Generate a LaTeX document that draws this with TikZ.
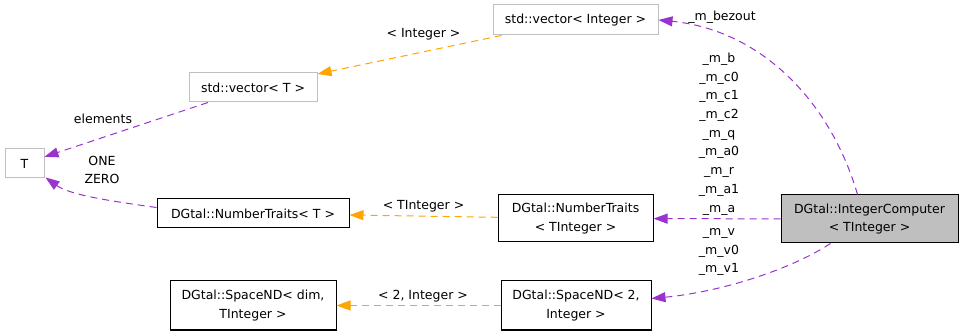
\documentclass[tikz,border=0pt]{standalone}
\usepackage{fontspec}
\setmainfont{DejaVu Sans}
\usetikzlibrary{arrows.meta,calc}
\definecolor{member}{HTML}{9A32CD}
\definecolor{templ}{HTML}{FFA500}
\definecolor{boxgray}{HTML}{BFBFBF}
\tikzset{
  cls/.style={draw=black, line width=1pt, inner sep=0pt, align=center,
    font=\fontsize{12.5}{18.7}\selectfont},
  extcls/.style={cls, draw=boxgray},
  lbl/.style={inner sep=0pt, align=center, font=\fontsize{12.5}{18.7}\selectfont},
  uses/.style={draw=member, line width=1pt, dash pattern=on 7pt off 5pt,
    -{Triangle[length=14pt,width=10pt,fill=member]}},
  inst/.style={draw=templ, line width=1pt, dash pattern=on 7pt off 5pt,
    -{Triangle[length=14pt,width=10pt,fill=templ]}}
}
\begin{document}
\begin{tikzpicture}[x=1pt,y=-1pt]
\useasboundingbox (0,0) rectangle (963,336);
% classes
\node[extcls, minimum width=165pt, minimum height=30pt] (VI) at (575.5,20) {std::vector< Integer >};
\node[extcls, minimum width=128pt, minimum height=29pt] (VT) at (253,87.5) {std::vector< T >};
\node[extcls, minimum width=39pt, minimum height=29pt] (T) at (24.5,163.5) {T};
\node[cls, minimum width=192pt, minimum height=29pt] (NT) at (253,213.5) {DGtal::NumberTraits< T >};
\node[cls, minimum width=155pt, minimum height=47pt] (NTI) at (575.5,218.5) {DGtal::NumberTraits\\< TInteger >};
\node[cls, fill=boxgray, minimum width=177pt, minimum height=48pt] (IC) at (869.5,219) {DGtal::IntegerComputer\\< TInteger >};
\node[cls, minimum width=150pt, minimum height=49pt] (S2) at (576,305.5) {DGtal::SpaceND< 2,\\Integer >};
\node[cls, minimum width=166pt, minimum height=49pt] (SD) at (253,305.5) {DGtal::SpaceND< dim,\\TInteger >};
% template instantiations
\draw[inst] (VI) -- (VT);
\draw[inst] (NTI) -- (NT);
\draw[inst] (S2) -- (SD);
% member relations
\draw[uses] ($(IC.north)+(-12,0)$) .. controls (830,100) and (760,30) .. (VI.east);
\draw[uses] (IC) -- (NTI);
\draw[uses] ($(IC.south)+(-39,0)$) .. controls (790,270) and (720,292) .. ($(S2.east)+(0,-7)$);
\draw[uses] (VT) -- (T);
\draw[uses] ($(NT.west)+(0,-6)$) .. controls (110,201) and (70,195) .. ($(T.south east)+(1,-1)$);
% labels
\node[lbl] (lbez) at (722,17) {\_m\_bezout};
\node[lbl] (lmem) at (719,134) {\_m\_b\\\_m\_c0\\\_m\_c1\\\_m\_c2\\\_m\_q\\\_m\_a0\\\_m\_r\\\_m\_a1\\\_m\_a};
\node[lbl] (lv) at (719,252) {\_m\_v\\\_m\_v0\\\_m\_v1};
\node[lbl] (lint) at (423.5,34) {< Integer >};
\node[lbl] (ltint) at (423.5,206) {< TInteger >};
\node[lbl] (l2int) at (423,296) {< 2, Integer >};
\node[lbl] (lel) at (103,119) {elements};
\node[lbl] (lone) at (102,170) {ONE\\ZERO};
\end{tikzpicture}
\end{document}
